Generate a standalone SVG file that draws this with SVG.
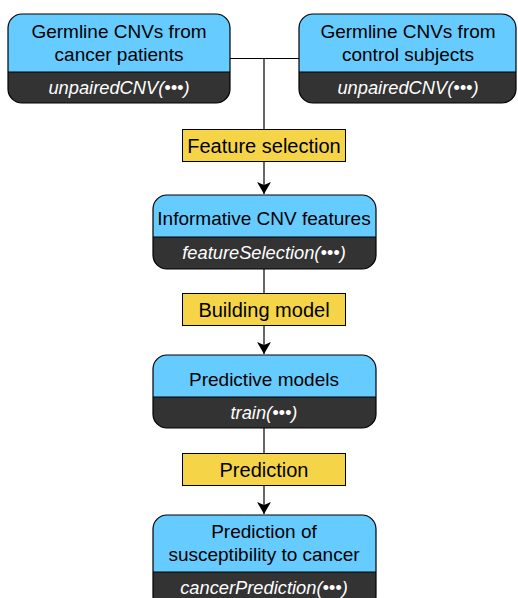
<svg xmlns="http://www.w3.org/2000/svg" width="518" height="598" viewBox="0 0 518 598">
<defs>
<marker id="arr" viewBox="0 0 12 14" refX="12" refY="7" markerWidth="12" markerHeight="14" markerUnits="userSpaceOnUse" orient="auto">
<path d="M0,0 L12,7 L0,14 L3,7 Z" fill="#000"/>
</marker>
<clipPath id="c1"><rect x="8" y="14" width="222" height="89" rx="14"/></clipPath>
<clipPath id="c2"><rect x="299" y="14" width="217" height="89" rx="14"/></clipPath>
<clipPath id="c3"><rect x="153" y="195" width="223" height="74" rx="14"/></clipPath>
<clipPath id="c4"><rect x="153" y="355" width="223" height="73" rx="14"/></clipPath>
<clipPath id="c5"><rect x="153" y="515" width="223" height="95" rx="14"/></clipPath>
</defs>
<style>
.top{fill:#66CCFF}
.bot{fill:#333333}
.out{fill:none;stroke:#000;stroke-width:1.2}
.t{font-family:"Liberation Sans",Arial,sans-serif;font-size:19px;fill:#000;text-anchor:middle}
.lt{font-family:"Liberation Sans",Arial,sans-serif;font-size:20px;fill:#000;text-anchor:middle}
.f{font-family:"Liberation Sans",Arial,sans-serif;font-size:18.3px;font-style:italic;fill:#fff;text-anchor:middle}
.lab{fill:#F5D547;stroke:#000;stroke-width:1}
.ln{fill:none;stroke:#000;stroke-width:1.2}
</style>
<rect width="518" height="598" fill="#fff"/>
<g id="connectors">
<path class="ln" d="M230,58.5 H299"/>
<path class="ln" d="M264,58.5 V129"/>
<path class="ln" d="M264,161 V194" marker-end="url(#arr)"/>
<path class="ln" d="M264,269 V293"/>
<path class="ln" d="M264,325 V354" marker-end="url(#arr)"/>
<path class="ln" d="M264,428 V453"/>
<path class="ln" d="M264,485 V514" marker-end="url(#arr)"/>
</g>
<g id="lab1"><rect class="lab" x="182.5" y="129.5" width="163" height="32"/><text class="lt" x="264" y="152.5">Feature selection</text></g>
<g id="lab2"><rect class="lab" x="182.5" y="293.5" width="163" height="32"/><text class="lt" x="264" y="316.5">Building model</text></g>
<g id="lab3"><rect class="lab" x="182.5" y="453.5" width="163" height="32"/><text class="lt" x="264" y="476.5">Prediction</text></g>
<g id="n1">
<g clip-path="url(#c1)"><rect class="top" x="8" y="14" width="222" height="58"/><rect class="bot" x="8" y="72" width="222" height="31"/></g>
<rect class="out" x="8" y="14" width="222" height="89" rx="14"/>
<line class="ln" x1="8" y1="72" x2="230" y2="72"/>
<text class="t" x="119" y="38">Germline CNVs from</text>
<text class="t" x="119" y="61">cancer patients</text>
<text class="f" x="119" y="94">unpairedCNV(•••)</text>
</g>
<g id="n2">
<g clip-path="url(#c2)"><rect class="top" x="299" y="14" width="217" height="58"/><rect class="bot" x="299" y="72" width="217" height="31"/></g>
<rect class="out" x="299" y="14" width="217" height="89" rx="14"/>
<line class="ln" x1="299" y1="72" x2="516" y2="72"/>
<text class="t" x="408" y="38">Germline CNVs from</text>
<text class="t" x="408" y="61">control subjects</text>
<text class="f" x="408" y="94">unpairedCNV(•••)</text>
</g>
<g id="n3">
<g clip-path="url(#c3)"><rect class="top" x="153" y="195" width="223" height="42"/><rect class="bot" x="153" y="237" width="223" height="32"/></g>
<rect class="out" x="153" y="195" width="223" height="74" rx="14"/>
<line class="ln" x1="153" y1="237" x2="376" y2="237"/>
<text class="t" x="264" y="225">Informative CNV features</text>
<text class="f" x="264" y="259">featureSelection(•••)</text>
</g>
<g id="n4">
<g clip-path="url(#c4)"><rect class="top" x="153" y="355" width="223" height="42"/><rect class="bot" x="153" y="397" width="223" height="31"/></g>
<rect class="out" x="153" y="355" width="223" height="73" rx="14"/>
<line class="ln" x1="153" y1="397" x2="376" y2="397"/>
<text class="t" x="264" y="386">Predictive models</text>
<text class="f" x="264" y="419">train(•••)</text>
</g>
<g id="n5">
<g clip-path="url(#c5)"><rect class="top" x="153" y="515" width="223" height="57"/><rect class="bot" x="153" y="572" width="223" height="40"/></g>
<rect class="out" x="153" y="515" width="223" height="95" rx="14"/>
<line class="ln" x1="153" y1="572" x2="376" y2="572"/>
<text class="t" x="264" y="538">Prediction of</text>
<text class="t" x="264" y="561">susceptibility to cancer</text>
<text class="f" x="264" y="594">cancerPrediction(•••)</text>
</g>
</svg>
